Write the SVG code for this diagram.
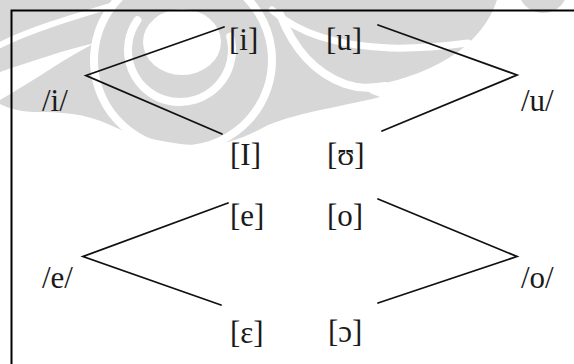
<svg xmlns="http://www.w3.org/2000/svg" width="574" height="364" viewBox="0 0 574 364">
<style>
.lbl{font-family:"Liberation Serif","Times New Roman",serif;font-size:31px;fill:#1a1a1a}
.con{stroke:#111;stroke-width:1.8;fill:none;stroke-linecap:round}
.wm{fill:#d7d7d7}
.wb{stroke:#fff;fill:none;stroke-linecap:round}
</style>
<rect width="574" height="364" fill="#fff"/>
<g id="watermark">
<path class="wm" d="M0,0 L497,0 C490,22 474,40 458,52 C435,68 405,80 375,85 C360,87 365,92 380,97 C345,106 300,112 268,125 C245,138 220,148 190,145 C160,142 130,135 110,125 C85,113 60,112 35,112 C20,112 8,108 0,104 Z"/>
<circle class="wm" cx="543" cy="-12" r="25"/>
<ellipse cx="182" cy="42" rx="39" ry="33" fill="#fff"/>
<path class="wb" stroke-width="8" d="M137.4,20.2 A52,52 0 1 0 230.2,36.5"/>
<path class="wb" stroke-width="8" d="M132,-12.9 A89,89 0 1 0 234,-12.9"/>
<path class="wb" stroke-width="7" d="M272,10 C300,35 340,46 390,48 C420,49 445,46 468,43"/>
<path class="wb" stroke-width="8" d="M280,14 C292,45 312,72 345,84 C360,89 370,88 385,86"/>
<path class="wb" stroke-width="6" d="M0,45 C30,30 70,18 110,6"/>
<path fill="#fff" d="M0,72 C35,60 65,50 95,43 C65,58 35,80 0,100 Z"/>
</g>
<path d="M11.5,366 L11.5,10.5 L576,10.5" stroke="#000" stroke-width="2" fill="none"/>
<g id="connectors">
<path class="con" d="M224,27 L86,75.5 L222,134"/>
<path class="con" d="M378,25 L517,75 L382,131"/>
<path class="con" d="M228,203 L83,256.5 L221,305"/>
<path class="con" d="M378,199 L517,256.5 L378,303"/>
</g>
<g id="n-i"><text class="lbl" x="42" y="111">/i/</text></g>
<g id="n-i-tense"><text class="lbl" x="229" y="50">[i]</text></g>
<g id="n-i-lax"><text class="lbl" x="230" y="165">[I]</text></g>
<g id="n-u"><text class="lbl" x="521" y="111">/u/</text></g>
<g id="n-u-tense"><text class="lbl" x="326" y="50">[u]</text></g>
<g id="n-u-lax"><text class="lbl" x="327" y="165">[ʊ]</text></g>
<g id="n-e"><text class="lbl" x="42" y="288">/e/</text></g>
<g id="n-e-tense"><text class="lbl" x="230" y="226">[e]</text></g>
<g id="n-e-lax"><text class="lbl" x="230" y="343">[ɛ]</text></g>
<g id="n-o"><text class="lbl" x="521" y="288">/o/</text></g>
<g id="n-o-tense"><text class="lbl" x="327" y="226">[o]</text></g>
<g id="n-o-lax"><text class="lbl" x="328" y="342">[ɔ]</text></g>
</svg>
